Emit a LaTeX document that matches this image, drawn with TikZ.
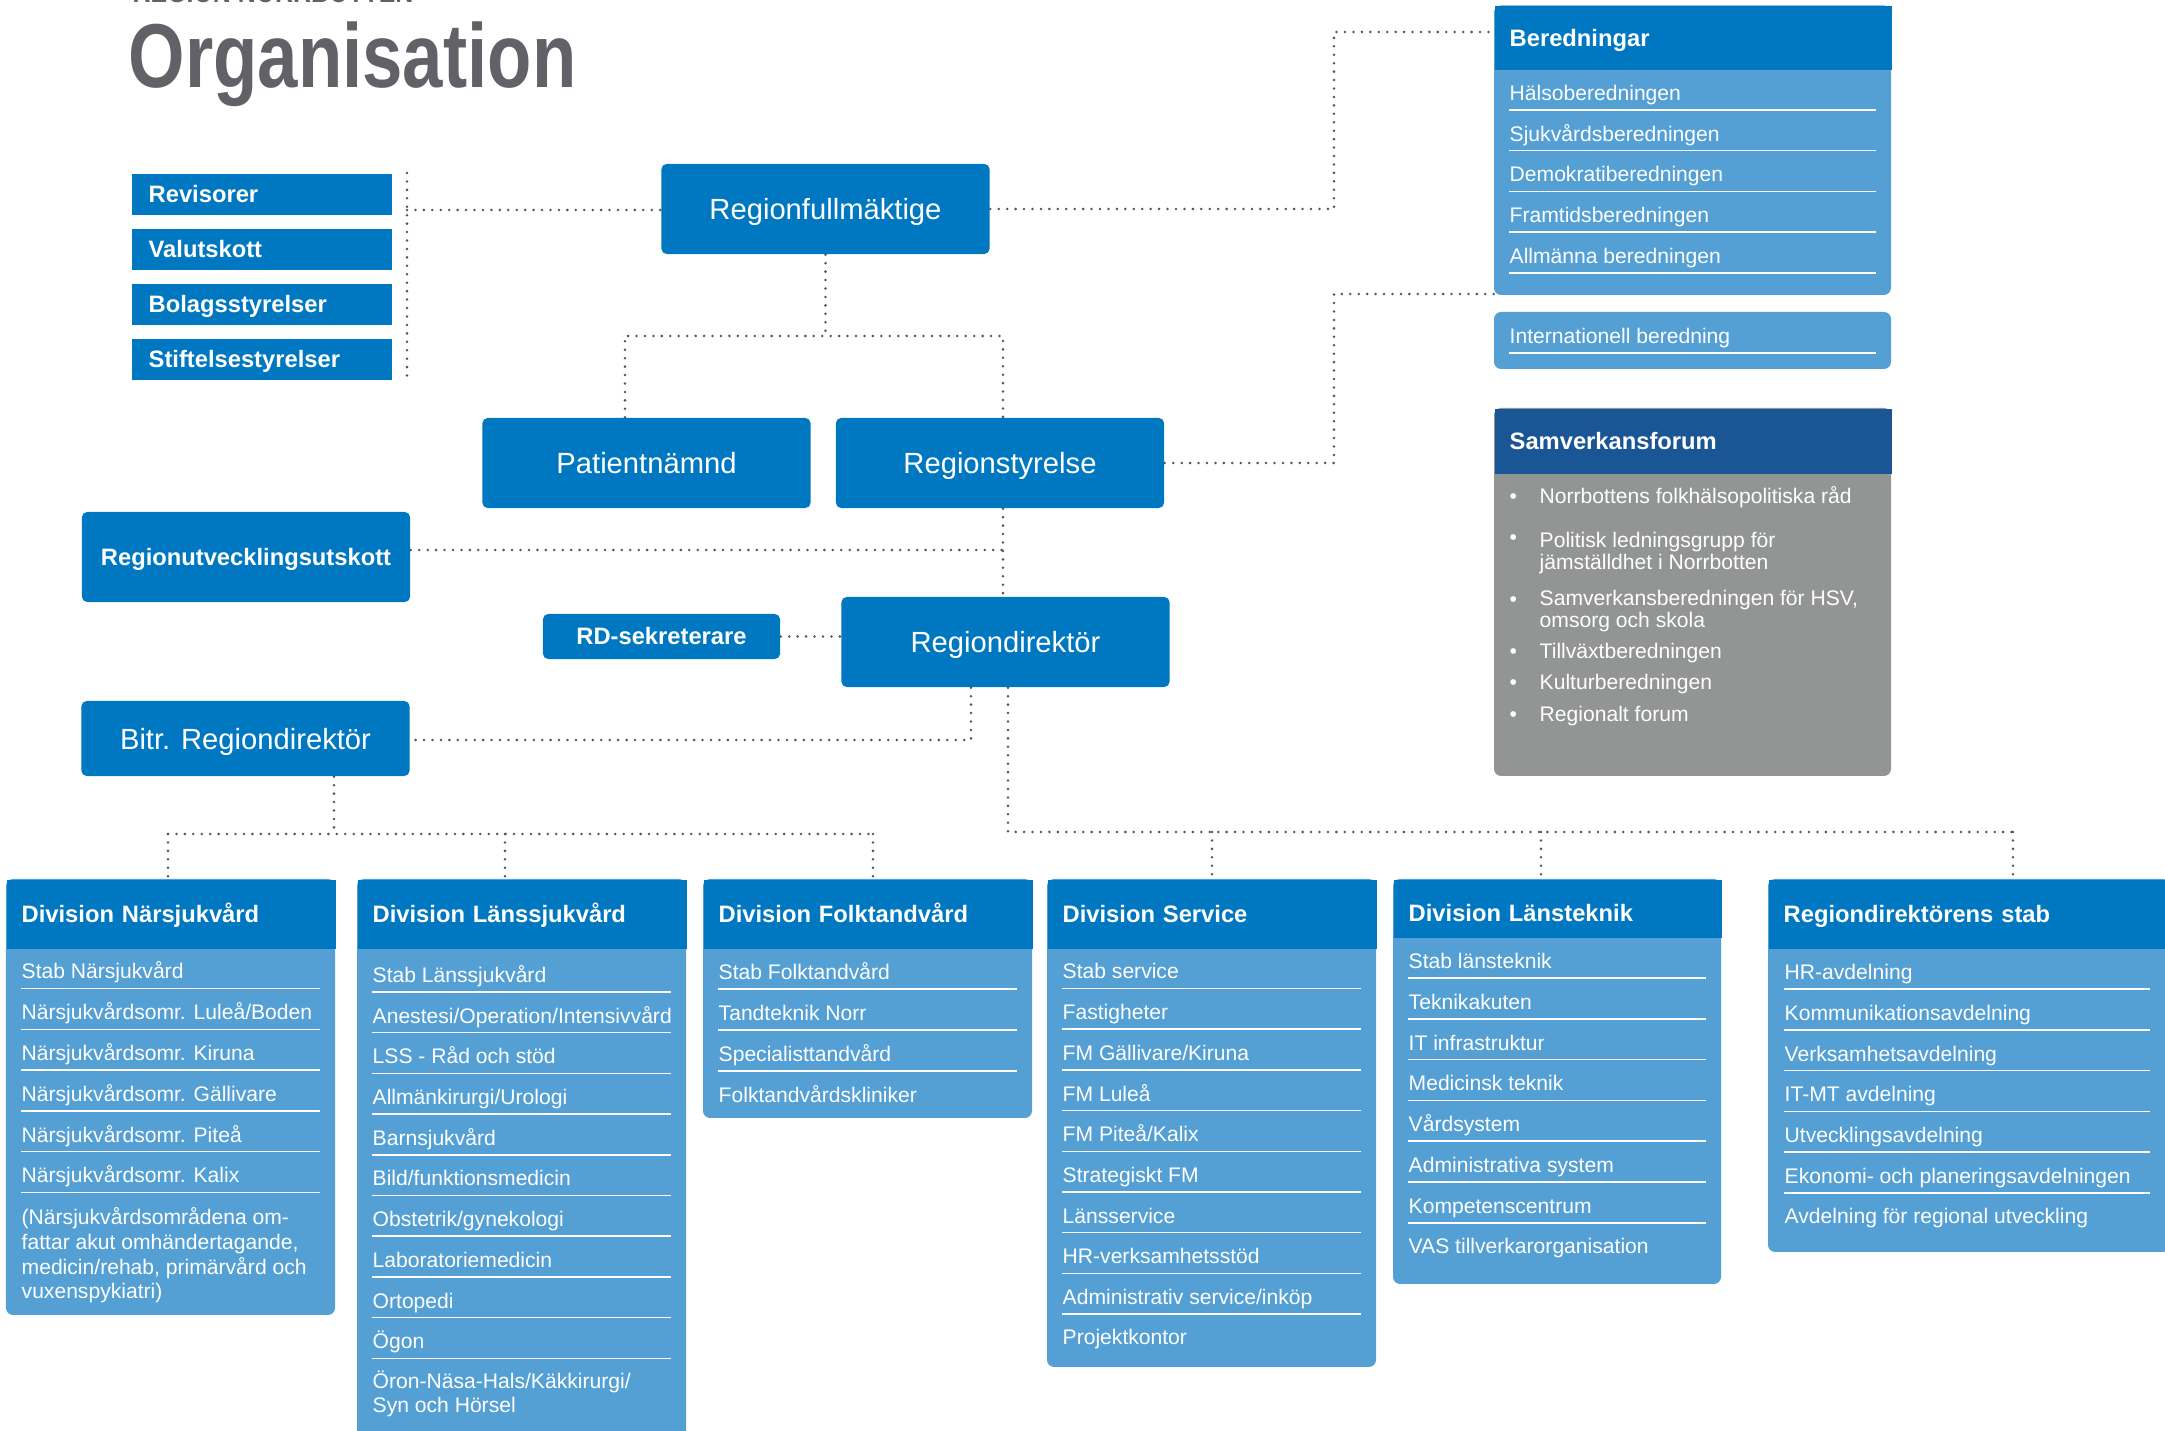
\documentclass[tikz,border=0pt]{standalone}
\usepackage{fontspec}
\setmainfont{Liberation Sans}
\newfontfamily\titlefont[FakeStretch=0.8]{Liberation Sans}
\usepackage{xcolor}
\usepackage{tikz}
\usetikzlibrary{positioning, calc}
\definecolor{rnblue}{HTML}{0078C1}
\definecolor{rnlight}{HTML}{54A0D4}
\definecolor{rndark}{HTML}{1A5595}
\definecolor{rngray}{HTML}{939494}
\definecolor{titlegray}{HTML}{636167}
\definecolor{dotgray}{HTML}{555555}

\begin{document}
\begin{tikzpicture}[x=0.01cm, y=-0.01cm,
    bigbox/.style={fill=rnblue, text=white, rounded corners=1.5pt, inner sep=0pt,
        minimum width=3.28cm, minimum height=0.9cm, text height=0.21cm, text depth=0pt,
        font=\fontsize{8.3}{10}\selectfont},
    boldbox/.style={bigbox, text height=0.17cm, font=\bfseries\fontsize{6.75}{8}\selectfont},
    sidebox/.style={anchor=north west, fill=rnblue, text=white, inner xsep=0.17cm, inner ysep=0pt,
        text width=2.26cm, minimum height=0.41cm, align=left, text height=0.17cm, text depth=0pt,
        font=\bfseries\fontsize{6.75}{8}\selectfont},
    headbar/.style={anchor=north west, fill=rnblue, text=white, inner xsep=0.15cm, inner ysep=0pt,
        text width=#1, align=left, text height=0.17cm, text depth=0pt,
        font=\bfseries\fontsize{6.75}{8}\selectfont},
    item/.style={anchor=base west, inner sep=0pt, text=white, align=left,
        font=\fontsize{6}{7.1}\selectfont},
    sepline/.style={white, line width=0.45pt},
    dotline/.style={dotgray, line width=0.8pt, line cap=round, dash pattern=on 0pt off 2.4pt}]

    \useasboundingbox (0,0) rectangle (2165,1431);

    % Title
    \node[anchor=base west, inner sep=0pt, text=titlegray,
        font=\titlefont\bfseries\fontsize{8.85}{10}\selectfont] (region) at (132,3) {REGION NORRBOTTEN};
    \node[anchor=base west, inner sep=0pt, text=titlegray,
        font=\titlefont\bfseries\fontsize{25.8}{30}\selectfont] (title) at (128,88) {Organisation};

    % Side boxes
    \foreach \y/\n/\t in {173/revis/Revisorer, 228/valut/Valutskott, 283/bolag/Bolagsstyrelser, 338/stift/Stiftelsestyrelser} {
        \node[sidebox] (\n) at (131,\y) {\t};
    }

    % Beredningar
    \fill[rnlight, rounded corners=2pt] (1494,5.5) rectangle (1891,295);
    \node[headbar=3.67cm, minimum height=0.635cm] (ber) at (1494,5.5) {Beredningar};
    \foreach \t [count=\i] in {Hälsoberedningen, Sjukvårdsberedningen, Demokratiberedningen,
        Framtidsberedningen, Allmänna beredningen} {
        \node[item] (ber-\i) at (1509,{100.5+40.7*(\i-1)}) {\t};
        \draw[sepline] (1509,{110+40.7*(\i-1)}) -- +(367,0);
    }
    \fill[rnlight, rounded corners=2pt] (1494,312) -- (1891,312) -- (1891,369) -- (1494,369) -- cycle;
    \node[item] (intl) at (1509,343.5) {Internationell beredning};
    \draw[sepline] (1509,353) -- +(367,0);

    % Samverkansforum
    \fill[rngray, rounded corners=2pt] (1494,408) rectangle (1891,776);
    \node[headbar=3.67cm, fill=rndark, minimum height=0.65cm] (samv) at (1494,408) {Samverkansforum};
    \foreach \y/\z/\t [count=\i] in {504/504/Norrbottens folkhälsopolitiska råd,
        {545/570/Politisk ledningsgrupp för\\jämställdhet i Norrbotten},
        {607/628/Samverkansberedningen för HSV,\\omsorg och skola},
        659/659/Tillväxtberedningen, 690/690/Kulturberedningen, 722/722/Regionalt forum} {
        \node[item] (sb-\i) at (1509,\y) {\textbullet};
        \node[item, font=\fontsize{6}{6.5}\selectfont] (samv-\i) at (1539,\z) {\t};
    }

    % Main boxes
    \node[bigbox] (rfm) at (825.5,209) {Regionfullmäktige};
    \node[bigbox] (pat) at (646.5,463) {Patientnämnd};
    \node[bigbox] (rst) at (1000,463) {Regionstyrelse};
    \node[boldbox] (ruu) at (246,557) {Regionutvecklingsutskott};
    \node[boldbox, minimum width=2.37cm, minimum height=0.45cm] (rds) at (661.5,636.5) {RD-sekreterare};
    \node[bigbox] (rd) at (1005.5,642) {Regiondirektör};
    \node[bigbox, minimum height=0.75cm] (bitr) at (245.5,738.5) {Bitr. Regiondirektör};

    % Division Närsjukvård
    \fill[rnlight, rounded corners=2pt] (6,879) rectangle (335,1315);
    \node[headbar=2.99cm, minimum height=0.69cm] (narsj) at (6,879) {Division Närsjukvård};
    \foreach \t [count=\i] in {Stab Närsjukvård, Närsjukvårdsomr. Luleå/Boden, Närsjukvårdsomr. Kiruna,
        Närsjukvårdsomr. Gällivare, Närsjukvårdsomr. Piteå, Närsjukvårdsomr. Kalix} {
        \node[item] (narsj-\i) at (21,{979+40.8*(\i-1)}) {\t};
        \draw[sepline] (21,{988.5+40.8*(\i-1)}) -- +(299,0);
    }
    \node[item] (narsj-7) at (21,1299) {(Närsjukvårdsområdena om-\\fattar akut omhändertagande,\\medicin/rehab, primärvård och\\vuxenspykiatri)};

    % Division Länssjukvård
    \fill[rnlight, rounded corners=2pt] (357,879) rectangle (686,1445);
    \node[headbar=2.99cm, minimum height=0.69cm] (lans) at (357,879) {Division Länssjukvård};
    \foreach \t [count=\i] in {Stab Länssjukvård, Anestesi/Operation/Intensivvård, LSS - Råd och stöd,
        Allmänkirurgi/Urologi, Barnsjukvård, Bild/funktionsmedicin, Obstetrik/gynekologi,
        Laboratoriemedicin, Ortopedi, Ögon} {
        \node[item] (lans-\i) at (372,{982.5+40.7*(\i-1)}) {\t};
        \draw[sepline] (372,{992+40.7*(\i-1)}) -- +(299,0);
    }
    \node[item] (lans-11) at (372,1413) {Öron-Näsa-Hals/Käkkirurgi/\\Syn och Hörsel};

    % Division Folktandvård
    \fill[rnlight, rounded corners=2pt] (703,879) rectangle (1032,1118);
    \node[headbar=2.99cm, minimum height=0.69cm] (folk) at (703,879) {Division Folktandvård};
    \foreach \t [count=\i] in {Stab Folktandvård, Tandteknik Norr, Specialisttandvård} {
        \node[item] (folk-\i) at (718,{979.5+41*(\i-1)}) {\t};
        \draw[sepline] (718,{989+41*(\i-1)}) -- +(299,0);
    }
    \node[item] (folk-4) at (718,1102.5) {Folktandvårdskliniker};

    % Division Service
    \fill[rnlight, rounded corners=2pt] (1047,879) rectangle (1376,1367);
    \node[headbar=2.99cm, minimum height=0.69cm] (serv) at (1047,879) {Division Service};
    \foreach \t [count=\i] in {Stab service, Fastigheter, FM Gällivare/Kiruna, FM Luleå, FM Piteå/Kalix,
        Strategiskt FM, Länsservice, HR-verksamhetsstöd, Administrativ service/inköp} {
        \node[item] (serv-\i) at (1062,{979+40.7*(\i-1)}) {\t};
        \draw[sepline] (1062,{988.5+40.7*(\i-1)}) -- +(299,0);
    }
    \node[item] (serv-10) at (1062,1345) {Projektkontor};

    % Division Länsteknik
    \fill[rnlight, rounded corners=2pt] (1393,879) rectangle (1721,1284);
    \node[headbar=2.98cm, minimum height=0.58cm, text height=0.26cm] (tek) at (1393,879) {Division Länsteknik};
    \foreach \t [count=\i] in {Stab länsteknik, Teknikakuten, IT infrastruktur, Medicinsk teknik,
        Vårdsystem, Administrativa system, Kompetenscentrum} {
        \node[item] (tek-\i) at (1408,{968.5+40.8*(\i-1)}) {\t};
        \draw[sepline] (1408,{978+40.8*(\i-1)}) -- +(298,0);
    }
    \node[item] (tek-8) at (1408,1254) {VAS tillverkarorganisation};

    % Regiondirektörens stab
    \fill[rnlight, rounded corners=2pt] (1768,879) rectangle (2170,1252);
    \node[headbar=3.72cm, minimum height=0.69cm] (stab) at (1768,879) {Regiondirektörens stab};
    \foreach \t [count=\i] in {HR-avdelning, Kommunikationsavdelning, Verksamhetsavdelning,
        IT-MT avdelning, Utvecklingsavdelning, Ekonomi- och planeringsavdelningen} {
        \node[item] (stab-\i) at (1784,{979.5+40.8*(\i-1)}) {\t};
        \draw[sepline] (1784,{989+40.8*(\i-1)}) -- +(366,0);
    }
    \node[item] (stab-7) at (1784,1224) {Avdelning för regional utveckling};

    % Connectors
    \coordinate (rb) at (407,210);
    \draw[dotline] (rb |- revis.north) -- (rb |- stift.south);
    \draw[dotline] (rb) -- (rb -| rfm.west);

    \coordinate (bj1) at (1334,32);
    \coordinate (bj2) at (1334,294);
    \draw[dotline] (rfm.east) -| (bj1) -- (bj1 -| ber.west);
    \draw[dotline] (rst.east) -| (bj2) -- (bj2 -| ber.west);

    \coordinate (fl) at (625,336);
    \coordinate (fr) at (1003,336);
    \draw[dotline] (rfm.south) -- (rfm.south |- fl);
    \draw[dotline] (fl |- pat.north) -- (fl) -- (fr) -- (fr |- rst.north);
    \draw[dotline] (fr |- rst.south) -- (fr |- rd.north);

    \coordinate (ru) at (1003,550);
    \draw[dotline] (ru -| ruu.east) -- (ru);
    \draw[dotline] (rds.east) -- (rds.east -| rd.west);

    \foreach \x/\n in {168/narsj, 505/lans, 873/folk} {
        \coordinate (d-\n) at (\x,834);
        \draw[dotline] (d-\n) -- (d-\n |- \n.north);
    }
    \foreach \x/\n in {1212/serv, 1541/tek, 2013/stab} {
        \coordinate (d-\n) at (\x,832);
        \draw[dotline] (d-\n) -- (d-\n |- \n.north);
    }

    \coordinate (bl) at (971,740);
    \coordinate (br) at (1008,832);
    \draw[dotline] (bl |- rd.south) -- (bl) -- (bl -| bitr.east);
    \draw[dotline] (br |- rd.south) -- (br) -- (d-stab);

    \coordinate (bb) at (334,834);
    \draw[dotline] (bb |- bitr.south) -- (bb);
    \draw[dotline] (d-narsj) -- (d-folk);
\end{tikzpicture}
\end{document}
